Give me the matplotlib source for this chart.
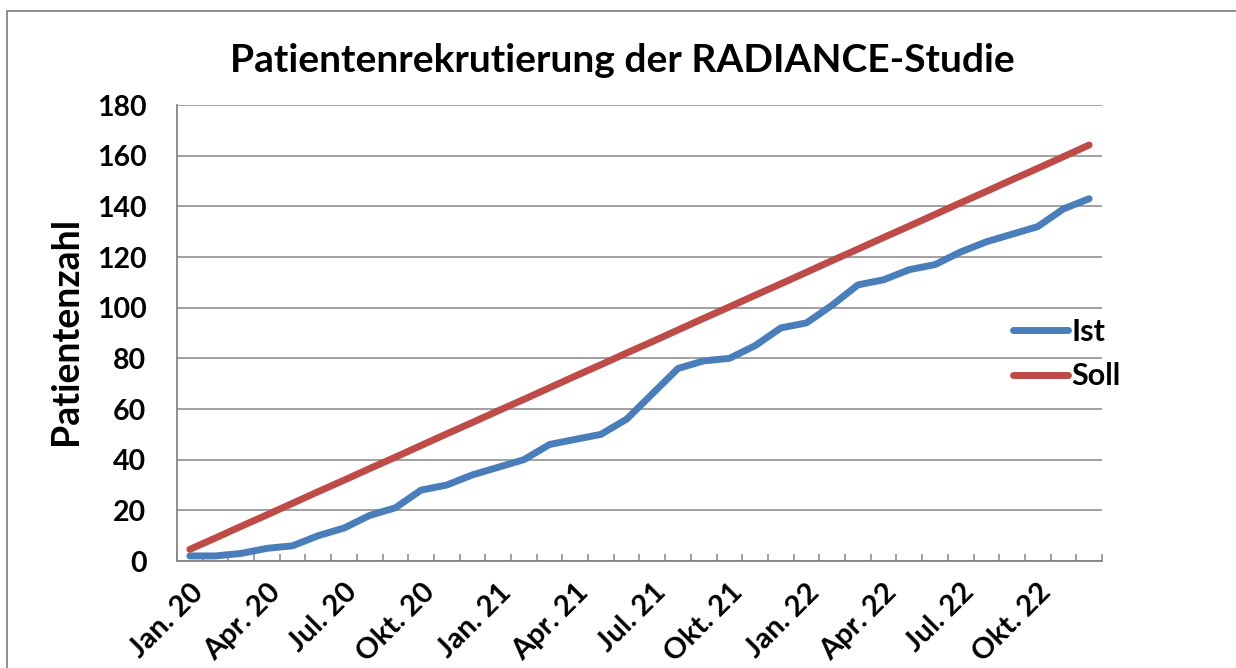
import matplotlib
matplotlib.use("Agg")
import matplotlib.pyplot as plt
from matplotlib.patches import Rectangle
import numpy as np

plt.rcParams["font.family"] = ["Lato", "DejaVu Sans"]
plt.rcParams["font.weight"] = "bold"

# monthly data Jan 2020 .. Dec 2022
months = ["Jan. 20", "Feb. 20", "Mrz. 20", "Apr. 20", "Mai. 20", "Jun. 20",
          "Jul. 20", "Aug. 20", "Sep. 20", "Okt. 20", "Nov. 20", "Dez. 20",
          "Jan. 21", "Feb. 21", "Mrz. 21", "Apr. 21", "Mai. 21", "Jun. 21",
          "Jul. 21", "Aug. 21", "Sep. 21", "Okt. 21", "Nov. 21", "Dez. 21",
          "Jan. 22", "Feb. 22", "Mrz. 22", "Apr. 22", "Mai. 22", "Jun. 22",
          "Jul. 22", "Aug. 22", "Sep. 22", "Okt. 22", "Nov. 22", "Dez. 22"]
ist = [2, 2, 3, 5, 6, 10, 13, 18, 21, 28, 30, 34,
       37, 40, 46, 48, 50, 56, 66, 76, 79, 80, 85, 92,
       94, 101, 109, 111, 115, 117, 122, 126, 129, 132, 139, 143]
soll = [4.6, 9.1, 13.7, 18.2, 22.8, 27.4, 31.9, 36.5, 41.0, 45.6, 50.2, 54.7,
        59.3, 63.8, 68.4, 73.0, 77.5, 82.1, 86.6, 91.2, 95.8, 100.3, 104.9, 109.4,
        114.0, 118.6, 123.1, 127.7, 132.2, 136.8, 141.4, 145.9, 150.5, 155.0, 159.6, 164.2]

W, H = 1236, 668
fig = plt.figure(figsize=(W / 100, H / 100), dpi=100)
ax = fig.add_axes([177 / W, 1 - 561 / H, (1102 - 177) / W, (561 - 105) / H])

x = np.arange(len(months))
ax.plot(x, ist, color="#4A7EBB", lw=5, solid_capstyle="round", solid_joinstyle="round", label="Ist")
ax.plot(x, soll, color="#BE4B48", lw=5, solid_capstyle="round", solid_joinstyle="round", label="Soll")

grid_c = "#868686"
ax.set_xlim(-0.5, len(months) - 0.5)
ax.set_ylim(0, 180)
ax.set_yticks(range(0, 181, 20))
ax.yaxis.grid(True, color=grid_c, lw=1.1)
ax.set_axisbelow(True)
for s in ["top", "right"]:
    ax.spines[s].set_visible(False)
for s in ["left", "bottom"]:
    ax.spines[s].set_color(grid_c)
    ax.spines[s].set_linewidth(1.3)

ax.tick_params(axis="y", length=0, pad=22, labelsize=20.5)
ax.set_xticks(x[::3])
ax.set_xticklabels(months[::3], rotation=45, ha="right", rotation_mode="anchor")
ax.set_xticks(np.arange(-0.5, len(months)), minor=True)
ax.tick_params(axis="x", which="major", length=0, pad=13, labelsize=21)
ax.tick_params(axis="x", which="minor", direction="in", length=5, color=grid_c, width=1.1)
for lab in ax.get_xticklabels() + ax.get_yticklabels():
    lab.set_fontweight("bold")

fig.text(622 / W, 1 - 60 / H, "Patientenrekrutierung der RADIANCE-Studie",
         ha="center", va="center", fontsize=28, fontweight="bold")
fig.text(66 / W, 1 - 331 / H, "Patientenzahl", rotation=90,
         ha="center", va="center", fontsize=27, fontweight="bold")

ax.legend(loc="center left", bbox_to_anchor=(1013 / W, 1 - 354 / H),
          bbox_transform=fig.transFigure, frameon=False,
          handlelength=1.8, handletextpad=0.1, labelspacing=0.55,
          borderpad=0, borderaxespad=0, prop={"weight": "bold", "size": 22})

fig.patches.append(Rectangle((7 / W, -0.2), 1.2, 1 - 11 / H + 0.2,
                             transform=fig.transFigure, fill=False,
                             edgecolor=grid_c, lw=1.3))

fig.savefig("out.png", dpi=100)
